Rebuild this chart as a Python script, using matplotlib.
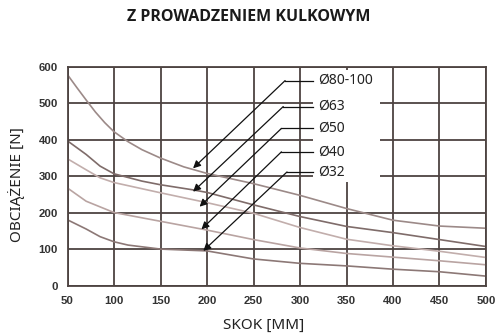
import matplotlib
matplotlib.use("Agg")
import matplotlib.pyplot as plt
from matplotlib.patches import Rectangle

# skok [mm] -> obciazenie [N]
x_80 = [50, 60, 70, 80, 90, 100, 115, 130, 150, 175, 200, 250, 300, 350, 400, 450, 500]
y_80 = [578, 543, 509, 476, 447, 422, 395, 373, 350, 326, 308, 280, 248, 212, 180, 164, 158]

x_63 = [50, 70, 85, 100, 130, 150, 185, 200, 250, 300, 350, 400, 450, 500]
y_63 = [397, 360, 328, 307, 287, 277, 263, 256, 222, 190, 163, 146, 127, 108]

x_50 = [50, 70, 85, 100, 150, 200, 250, 300, 350, 400, 450, 500]
y_50 = [348, 318, 296, 283, 255, 228, 199, 160, 128, 110, 95, 78]

x_40 = [50, 70, 100, 150, 200, 250, 300, 350, 400, 450, 500]
y_40 = [268, 232, 201, 177, 153, 127, 104, 89, 79, 69, 58]

x_32 = [50, 70, 85, 100, 115, 150, 200, 250, 300, 350, 400, 450, 500]
y_32 = [181, 156, 135, 121, 112, 101, 96, 74, 62, 55, 46, 39, 27]

labels = ['Ø80-100', 'Ø63', 'Ø50', 'Ø40', 'Ø32']
# punkty na krzywych, na ktore wskazuja strzalki
tip_x = [185, 185, 192, 194, 196]
tip_y = [322, 258, 217, 155, 96]
elbow_x = [284, 282, 280, 280, 286]
elbow_y = [562, 491, 431, 367, 312]

x_ticks = [50, 100, 150, 200, 250, 300, 350, 400, 450, 500]
y_ticks = [0, 100, 200, 300, 400, 500, 600]

grid_c = '#4d4341'

fig = plt.figure(figsize=(4.95, 3.36), dpi=100)
ax = fig.add_axes([0.1364, 0.1488, 0.8454, 0.6527])

ax.plot(x_80, y_80, color='#9c8a88', lw=1.2, zorder=2)
ax.plot(x_63, y_63, color='#7f6c6a', lw=1.2, zorder=2)
ax.plot(x_50, y_50, color='#c2aeac', lw=1.2, zorder=2)
ax.plot(x_40, y_40, color='#b9a4a2', lw=1.2, zorder=2)
ax.plot(x_32, y_32, color='#8c7876', lw=1.2, zorder=2)

ax.set_xlim(50, 500)
ax.set_ylim(0, 600)
ax.set_xticks(x_ticks)
ax.set_yticks(y_ticks)
ax.set_axisbelow(True)
ax.grid(True, color=grid_c, lw=1.3)
for s in ax.spines.values():
    s.set_color(grid_c)
    s.set_linewidth(1.3)
ax.tick_params(length=0, pad=7, labelsize=8.2, colors='#333333')
for t in ax.get_xticklabels() + ax.get_yticklabels():
    t.set_fontweight('bold')
    t.set_family('Liberation Sans')

# biale pole pod opisami
ax.add_patch(Rectangle((314, 284), 72, 307, facecolor='white', edgecolor='none', zorder=1))

for i in range(len(labels)):
    ax.plot([elbow_x[i], 314], [elbow_y[i], elbow_y[i]], color='#111111', lw=0.9, zorder=3)
    ax.annotate('', xy=(tip_x[i], tip_y[i]), xytext=(elbow_x[i], elbow_y[i]),
                arrowprops=dict(arrowstyle='-|>', color='#111111', lw=0.9,
                                mutation_scale=11, shrinkA=0, shrinkB=0), zorder=3)
    ax.text(319, elbow_y[i], labels[i], fontsize=10, family='Noto Sans',
            color='#222222', va='center', ha='left', zorder=4)

fig.text(0.503, 0.95, 'Z PROWADZENIEM KULKOWYM', ha='center', va='center',
         fontsize=11.5, fontweight='bold', family='Open Sans', color='#1a1a1a')
fig.text(0.532, 0.033, 'SKOK [MM]', ha='center', va='center',
         fontsize=11, family='Noto Sans', color='#222222')
fig.text(0.034, 0.45, 'OBCIĄŻENIE [N]', ha='center', va='center', rotation=90,
         fontsize=11, family='Noto Sans', color='#222222')

fig.savefig('out.png', dpi=100)
